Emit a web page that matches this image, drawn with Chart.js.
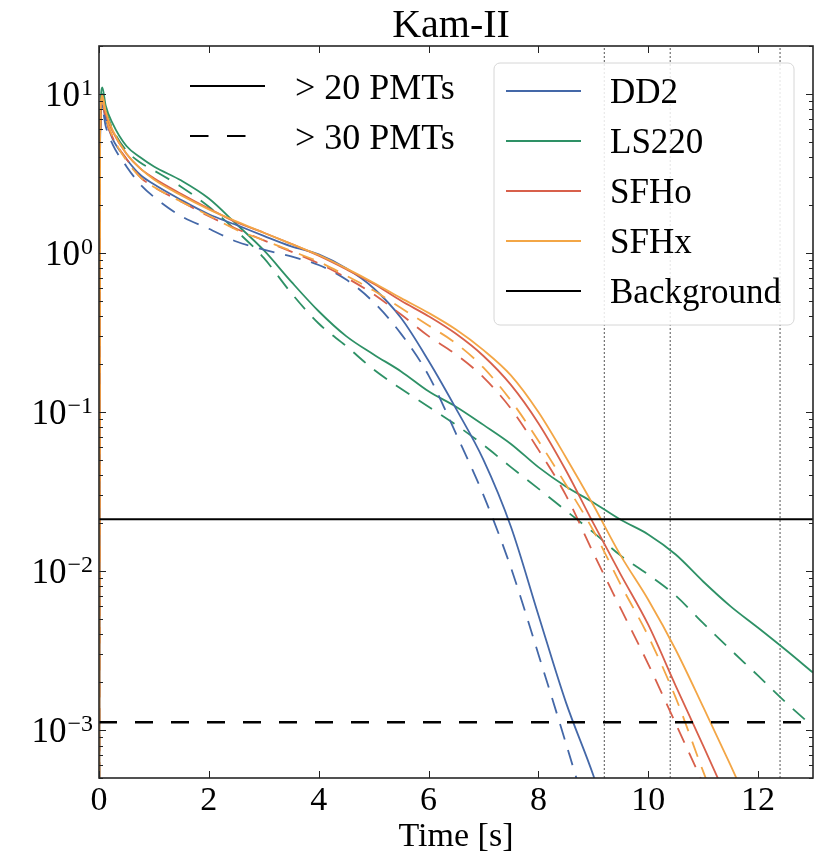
<!DOCTYPE html>
<html>
<head>
<meta charset="utf-8">
<script src="https://cdn.jsdelivr.net/npm/chart.js@4/dist/chart.umd.min.js"></script>
<style>
  html, body { margin: 0; padding: 0; background: #fff; }
  #c { display: block; }
</style>
</head>
<body>
<canvas id="c" width="823" height="862" style="width:823px;height:862px"></canvas>
<script>
// ---------------- data ----------------
const time = [0, 0.02, 0.06, 0.12, 0.25, 0.5, 0.75, 1, 1.5, 2, 2.5, 3, 3.5, 4, 4.5, 5, 5.5, 6, 6.5, 7, 7.5, 8, 8.5, 9, 9.5, 10, 10.5, 11, 11.5, 12, 12.5, 13];

const dd2_20  = [1e-5, 5, 8.5, 7.0, 5.2, 3.9, 3.1, 2.7, 2.15, 1.75, 1.5, 1.28, 1.1, 0.98, 0.8, 0.6, 0.39, 0.21, 0.105, 0.05, 0.019, 0.0053, 0.0015, 5.2e-4, 1.5e-4, null, null, null, null, null, null, null];
const dd2_30  = [1e-5, 4.5, 8.0, 6.3, 4.8, 3.5, 2.7, 2.25, 1.7, 1.42, 1.18, 1.05, 0.95, 0.84, 0.68, 0.49, 0.31, 0.17, 0.073, 0.03, 0.0105, 0.003, 8.3e-4, 2.2e-4, null, null, null, null, null, null, null, null];
const ls220_20 = [1e-5, 6, 11, 8.5, 6.5, 4.7, 4.0, 3.5, 2.85, 2.2, 1.52, 1.04, 0.66, 0.43, 0.3, 0.23, 0.18, 0.135, 0.108, 0.083, 0.063, 0.045, 0.034, 0.027, 0.021, 0.017, 0.0127, 0.0086, 0.006, 0.0044, 0.0032, 0.0023];
const ls220_30 = [1e-5, 5.5, 10, 8.0, 6.0, 4.4, 3.7, 3.3, 2.6, 1.95, 1.38, 0.93, 0.56, 0.36, 0.26, 0.185, 0.14, 0.108, 0.083, 0.062, 0.045, 0.033, 0.024, 0.0175, 0.0125, 0.0095, 0.007, 0.0047, 0.0032, 0.0022, 0.0015, 0.00105];
const sfho_20 = [1e-5, 5.5, 9.5, 7.5, 5.8, 4.2, 3.4, 2.95, 2.35, 1.9, 1.56, 1.34, 1.14, 0.96, 0.79, 0.64, 0.5, 0.4, 0.31, 0.225, 0.148, 0.085, 0.043, 0.02, 0.0095, 0.0046, 0.0019, 8e-4, 3.3e-4, null, null, null];
const sfho_30 = [1e-5, 5, 9.0, 7.0, 5.3, 3.9, 3.0, 2.6, 2.1, 1.7, 1.42, 1.2, 1.02, 0.86, 0.7, 0.55, 0.41, 0.3, 0.23, 0.165, 0.105, 0.058, 0.03, 0.013, 0.0058, 0.0026, 0.0011, 4.6e-4, null, null, null, null];
const sfhx_20 = [1e-5, 6, 9.8, 7.8, 5.9, 4.2, 3.4, 2.9, 2.3, 1.88, 1.58, 1.34, 1.14, 0.97, 0.8, 0.65, 0.52, 0.42, 0.33, 0.245, 0.17, 0.1, 0.052, 0.026, 0.0125, 0.0066, 0.0032, 0.0014, 6e-4, 2.5e-4, null, null];
const sfhx_30 = [1e-5, 5.2, 9.3, 7.2, 5.4, 3.8, 3.0, 2.6, 2.1, 1.72, 1.4, 1.2, 1.03, 0.88, 0.72, 0.58, 0.45, 0.35, 0.27, 0.19, 0.118, 0.066, 0.035, 0.018, 0.0082, 0.0039, 0.0016, 5.5e-4, 2e-4, null, null, null];

const background_20 = 0.0212;   // > 20 PMTs background rate
const background_30 = 0.00112;  // > 30 PMTs background rate
const vLines = [9.2, 10.4, 12.4];

const xTicks = [0, 2, 4, 6, 8, 10, 12];
const yDecades = [-3, -2, -1, 0, 1];
const xRange = [0, 13];
const yRange = [5e-4, 20];

const models = ['DD2', 'LS220', 'SFHo', 'SFHx'];
const modelColors = ['#4468a8', '#2e9166', '#d8604b', '#f3a646'];
const series20 = [dd2_20, ls220_20, sfho_20, sfhx_20];
const series30 = [dd2_30, ls220_30, sfho_30, sfhx_30];

// ---------------- build datasets ----------------
const FONT = '"Liberation Serif", "DejaVu Serif", serif';
const pts = arr => time.map((t, i) => ({ x: t, y: arr[i] }));
const datasets = [];

vLines.forEach(v => datasets.push({
  data: [{ x: v, y: yRange[0] }, { x: v, y: yRange[1] }],
  borderColor: '#555', borderWidth: 1, borderDash: [2, 2], order: 20
}));

// drawing order (high order is drawn first): green, blue, red, orange
const modelOrder = [9, 10, 8, 7];
models.forEach((m, k) => {
  datasets.push({
    label: m + ' >30', data: pts(series30[k]), borderColor: modelColors[k],
    borderWidth: 1.8, borderDash: [16, 11], order: modelOrder[k] + 0.5,
    cubicInterpolationMode: 'monotone'
  });
  datasets.push({
    label: m + ' >20', data: pts(series20[k]), borderColor: modelColors[k],
    borderWidth: 1.8, order: modelOrder[k],
    cubicInterpolationMode: 'monotone'
  });
});

datasets.push({
  label: 'Background >20', data: [{ x: xRange[0], y: background_20 }, { x: xRange[1], y: background_20 }],
  borderColor: '#000', borderWidth: 2, order: 1
});
datasets.push({
  label: 'Background >30', data: [{ x: xRange[0], y: background_30 }, { x: xRange[1], y: background_30 }],
  borderColor: '#000', borderWidth: 2.6, borderDash: [18, 18], order: 1
});

// ---------------- decorations plugin ----------------
const deco = {
  id: 'deco',
  afterDatasetsDraw(chart) {
    const { ctx, chartArea: a, scales: { x, y } } = chart;
    ctx.save();
    ctx.strokeStyle = '#222';
    ctx.lineWidth = 1;
    // x ticks (inward, bottom & top)
    xTicks.forEach(v => {
      const px = Math.round(x.getPixelForValue(v)) + 0.5;
      ctx.beginPath();
      ctx.moveTo(px, a.bottom); ctx.lineTo(px, a.bottom - 7);
      ctx.moveTo(px, a.top); ctx.lineTo(px, a.top + 7);
      ctx.stroke();
    });
    // y ticks: decades and minor ticks, inward left & right
    for (let e = -4; e <= 1; e++) {
      for (let m = 1; m <= 9; m++) {
        const v = m * Math.pow(10, e);
        if (v < yRange[0] || v > yRange[1]) continue;
        const py = Math.round(y.getPixelForValue(v)) + 0.5;
        const len = m === 1 ? 7 : 4;
        ctx.beginPath();
        ctx.moveTo(a.left, py); ctx.lineTo(a.left + len, py);
        ctx.moveTo(a.right, py); ctx.lineTo(a.right - len, py);
        ctx.stroke();
      }
    }
    // frame
    ctx.lineWidth = 1.6;
    ctx.strokeStyle = '#262626';
    ctx.strokeRect(a.left, a.top, a.right - a.left, a.bottom - a.top);
    ctx.restore();
  },
  afterDraw(chart) {
    const { ctx, chartArea: a, scales: { x, y } } = chart;
    ctx.save();
    ctx.fillStyle = '#000';
    ctx.textBaseline = 'alphabetic';

    // title
    ctx.font = '40px ' + FONT;
    ctx.textAlign = 'center';
    ctx.fillText('Kam-II', 451, 37);

    // x axis title
    ctx.font = '34px ' + FONT;
    ctx.fillText('Time [s]', (a.left + a.right) / 2, 846);

    // y tick labels 10^n
    yDecades.forEach(e => {
      const py = y.getPixelForValue(Math.pow(10, e));
      const sup = (e < 0 ? '\u2212' : '') + Math.abs(e);
      ctx.font = '24px ' + FONT;
      const sw = ctx.measureText(sup).width;
      ctx.textAlign = 'right';
      ctx.fillText(sup, 93, py + 1);
      ctx.font = '35px ' + FONT;
      ctx.fillText('10', 93 - sw - 1, py + 12);
    });

    // left legend (line styles)
    ctx.textAlign = 'left';
    ctx.strokeStyle = '#000';
    ctx.lineWidth = 2;
    ctx.beginPath(); ctx.moveTo(190, 86); ctx.lineTo(265, 86); ctx.stroke();
    ctx.setLineDash([18.5, 18.5]);
    ctx.beginPath(); ctx.moveTo(190, 136); ctx.lineTo(263, 136); ctx.stroke();
    ctx.setLineDash([]);
    ctx.font = '36px ' + FONT;
    ctx.fillText('> 20 PMTs', 295, 99);
    ctx.fillText('> 30 PMTs', 295, 149);

    // right legend (models)
    const bx = 494, by = 63, bw = 300, bh = 262, r = 6;
    ctx.beginPath();
    ctx.moveTo(bx + r, by);
    ctx.arcTo(bx + bw, by, bx + bw, by + bh, r);
    ctx.arcTo(bx + bw, by + bh, bx, by + bh, r);
    ctx.arcTo(bx, by + bh, bx, by, r);
    ctx.arcTo(bx, by, bx + bw, by, r);
    ctx.closePath();
    ctx.fillStyle = 'rgba(255,255,255,0.85)';
    ctx.fill();
    ctx.strokeStyle = '#d6d6d6';
    ctx.lineWidth = 1;
    ctx.stroke();

    const names = models.concat(['Background']);
    const cols = modelColors.concat(['#000']);
    ctx.font = '35px ' + FONT;
    names.forEach((n, i) => {
      const ly = 91 + i * 50;
      ctx.strokeStyle = cols[i];
      ctx.lineWidth = 2;
      ctx.beginPath(); ctx.moveTo(506, ly); ctx.lineTo(581, ly); ctx.stroke();
      ctx.fillStyle = '#000';
      ctx.fillText(n, 610, ly + 12);
    });
    ctx.restore();
  }
};

new Chart(document.getElementById('c'), {
  type: 'line',
  data: { datasets },
  options: {
    responsive: false,
    animation: false,
    devicePixelRatio: 1,
    layout: { padding: { top: 46, right: 10, left: 0, bottom: 0 } },
    elements: { point: { radius: 0 }, line: { tension: 0 } },
    plugins: { legend: { display: false }, tooltip: { enabled: false }, title: { display: false } },
    scales: {
      x: {
        type: 'linear', min: xRange[0], max: xRange[1],
        grid: { display: false, drawTicks: false }, border: { display: false },
        afterBuildTicks: s => { s.ticks = xTicks.map(v => ({ value: v })); },
        afterFit: s => { s.height = 84; },
        ticks: { font: { family: FONT, size: 34 }, color: '#000', padding: 3, maxRotation: 0, autoSkip: false }
      },
      y: {
        type: 'logarithmic', min: yRange[0], max: yRange[1],
        grid: { display: false, drawTicks: false }, border: { display: false },
        ticks: { display: false },
        afterFit: s => { s.width = 99; }
      }
    }
  },
  plugins: [deco]
});
</script>
</body>
</html>
